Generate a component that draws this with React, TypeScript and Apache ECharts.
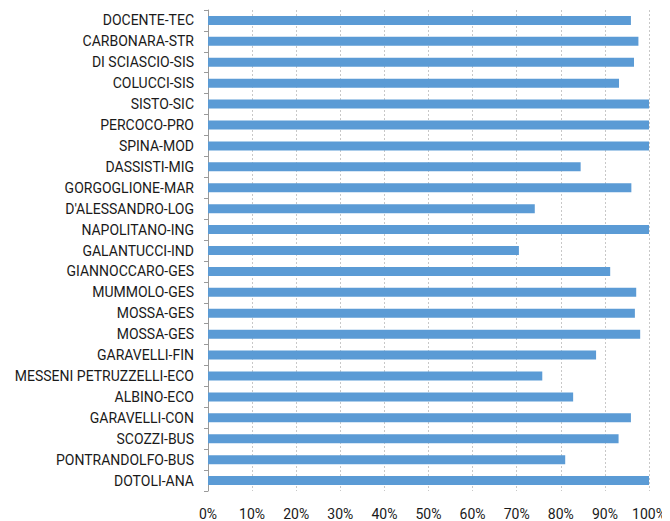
import React, { useEffect, useRef } from "react";
import * as echarts from "echarts";

const categories = [
  "DOCENTE-TEC",
  "CARBONARA-STR",
  "DI SCIASCIO-SIS",
  "COLUCCI-SIS",
  "SISTO-SIC",
  "PERCOCO-PRO",
  "SPINA-MOD",
  "DASSISTI-MIG",
  "GORGOGLIONE-MAR",
  "D'ALESSANDRO-LOG",
  "NAPOLITANO-ING",
  "GALANTUCCI-IND",
  "GIANNOCCARO-GES",
  "MUMMOLO-GES",
  "MOSSA-GES",
  "MOSSA-GES",
  "GARAVELLI-FIN",
  "MESSENI PETRUZZELLI-ECO",
  "ALBINO-ECO",
  "GARAVELLI-CON",
  "SCOZZI-BUS",
  "PONTRANDOLFO-BUS",
  "DOTOLI-ANA",
];

const values = [
  0.959, 0.976, 0.966, 0.932, 1.0, 1.0, 1.0, 0.845, 0.96, 0.741, 1.0, 0.705,
  0.912, 0.971, 0.968, 0.98, 0.88, 0.758, 0.828, 0.959, 0.931, 0.81, 1.0,
];

const FONT = "Roboto, sans-serif";

export default function App() {
  const ref = useRef<HTMLDivElement>(null);
  useEffect(() => {
    if (!ref.current) return;
    const chart = echarts.init(ref.current, undefined, { renderer: "svg" });
    chart.setOption({
      animation: false,
      grid: { left: 208, right: 21, top: 10, bottom: 29, containLabel: false },
      xAxis: {
        type: "value",
        min: 0,
        max: 1,
        interval: 0.1,
        axisLine: { show: false },
        axisTick: { show: false },
        axisLabel: {
          formatter: (v: number) => Math.round(v * 100) + "%",
          color: "#1a1a1a",
          fontFamily: FONT,
          fontSize: 14,
          margin: 16,
        },
        splitLine: {
          show: true,
          lineStyle: { color: "#c8c8c8", type: [2, 2], width: 1 },
        },
      },
      yAxis: {
        type: "category",
        data: categories,
        inverse: true,
        axisLine: { show: true, lineStyle: { color: "#9a9a9a", width: 1 } },
        axisTick: { show: true, length: 4, lineStyle: { color: "#9a9a9a" } },
        axisLabel: {
          color: "#1a1a1a",
          fontFamily: FONT,
          fontSize: 14,
          margin: 14,
          interval: 0,
        },
        splitLine: { show: false },
      },
      series: [
        {
          type: "bar",
          data: values,
          barWidth: 9,
          itemStyle: { color: "#5B9BD5" },
        },
      ],
    });
    return () => chart.dispose();
  }, []);
  return (
    <div
      ref={ref}
      style={{ width: 670, height: 521, marginLeft: -8, marginTop: -8 }}
    />
  );
}
